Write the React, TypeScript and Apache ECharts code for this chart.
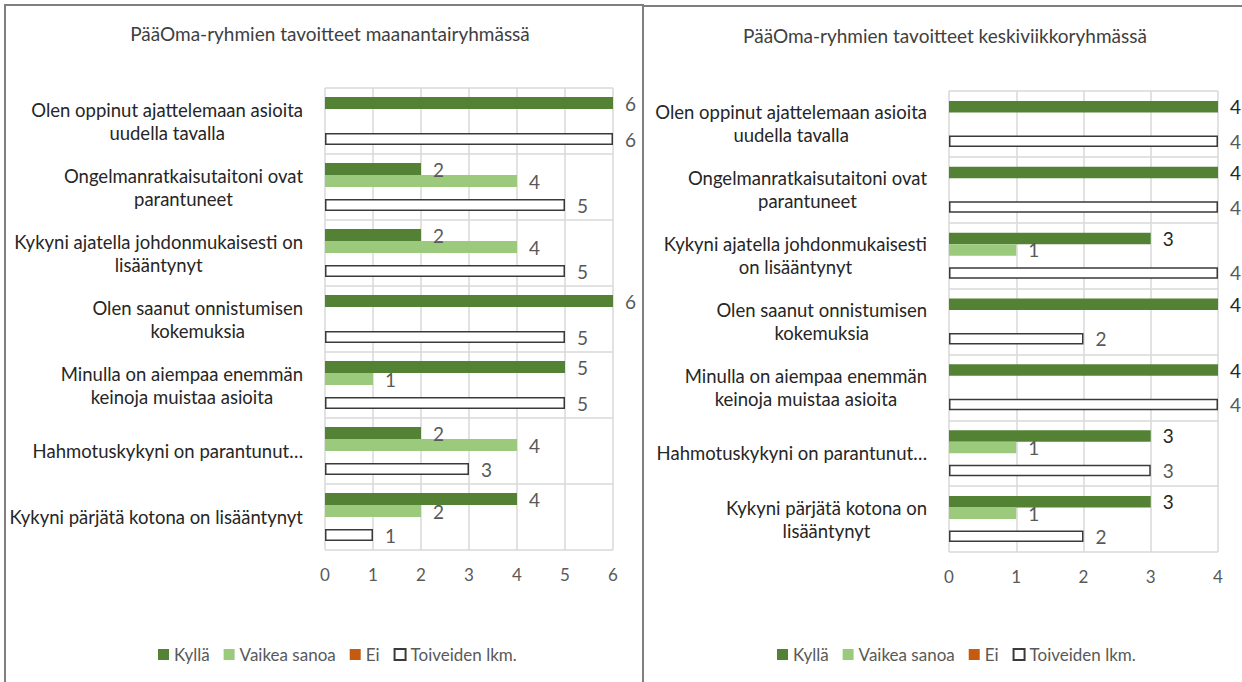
import React, { useEffect, useRef } from "react";
import * as echarts from "echarts";

// ---------- data ----------
const titleLeft = "PääOma-ryhmien tavoitteet maanantairyhmässä";
const titleRight = "PääOma-ryhmien tavoitteet keskiviikkoryhmässä";

const seriesNames = ["Kyllä", "Vaikea sanoa", "Ei", "Toiveiden lkm."];

const categoriesLeft = [
  "Olen oppinut ajattelemaan asioita\nuudella tavalla",
  "Ongelmanratkaisutaitoni ovat\nparantuneet",
  "Kykyni ajatella johdonmukaisesti on\nlisääntynyt",
  "Olen saanut onnistumisen\nkokemuksia",
  "Minulla on aiempaa enemmän\nkeinoja muistaa asioita",
  "Hahmotuskykyni on parantunut…",
  "Kykyni pärjätä kotona on lisääntynyt",
];
const kyllaLeft = [6, 2, 2, 6, 5, 2, 4];
const vaikeaLeft = [0, 4, 4, 0, 1, 4, 2];
const eiLeft = [0, 0, 0, 0, 0, 0, 0];
const toiveetLeft = [6, 5, 5, 5, 5, 3, 1];
const xMaxLeft = 6;

const categoriesRight = [
  "Olen oppinut ajattelemaan asioita\nuudella tavalla",
  "Ongelmanratkaisutaitoni ovat\nparantuneet",
  "Kykyni ajatella johdonmukaisesti\non lisääntynyt",
  "Olen saanut onnistumisen\nkokemuksia",
  "Minulla on aiempaa enemmän\nkeinoja muistaa asioita",
  "Hahmotuskykyni on parantunut…",
  "Kykyni pärjätä kotona on\nlisääntynyt",
];
const kyllaRight = [4, 4, 3, 4, 4, 3, 3];
const vaikeaRight = [0, 0, 1, 0, 0, 1, 1];
const eiRight = [0, 0, 0, 0, 0, 0, 0];
const toiveetRight = [4, 4, 4, 2, 4, 3, 2];
const xMaxRight = 4;

// ---------- styles ----------
const FONT = "Lato, 'Noto Sans', sans-serif";
const TEXT = "#595959";
const GRIDLINE = "#d9d9d9";
const colors = ["#548235", "#9cca7c", "#c55a11", "#ffffff"];

function App() {
  const ref = useRef<HTMLDivElement>(null);

  useEffect(() => {
    if (!ref.current) return;
    const chart = echarts.init(ref.current, undefined, { renderer: "svg" });

    const hideZero = (p: any) => (p.value === 0 ? "" : String(p.value));

    const makeSeries = (
      idx: number,
      data: number[][],
      barWidth: number,
      kyllaLabelColor: string
    ) =>
      data.map((vals, i) => ({
        name: seriesNames[i],
        type: "bar",
        xAxisIndex: idx,
        yAxisIndex: idx,
        data: vals,
        barWidth,
        barGap: "0%",
        itemStyle:
          i === 3
            ? { color: "#ffffff", borderColor: "#3a3a3a", borderWidth: 1.5 }
            : { color: colors[i] },
        label: {
          show: true,
          position: "right",
          distance: 12,
          formatter: hideZero,
          color: i === 0 ? kyllaLabelColor : TEXT,
          fontFamily: FONT,
          fontSize: 19,
        },
      }));

    const catAxis = (idx: number, cats: string[]) => ({
      type: "category",
      gridIndex: idx,
      data: cats,
      inverse: true,
      axisLine: { show: false },
      axisTick: { show: false },
      splitLine: { show: true, lineStyle: { color: GRIDLINE, width: 1.5 } },
      axisLabel: {
        margin: 22,
        align: "right",
        fontFamily: FONT,
        fontSize: 18.5,
        color: "#262626",
        formatter: (v: string) =>
          v
            .split("\n")
            .map((l) => `{c|${l}}`)
            .join("\n"),
        rich: {
          c: {
            align: "center",
            fontFamily: FONT,
            fontSize: 18.5,
            lineHeight: 23,
            color: "#262626",
          },
        },
      },
    });

    const valAxis = (idx: number, max: number) => ({
      type: "value",
      gridIndex: idx,
      min: 0,
      max,
      interval: 1,
      axisLine: { show: false },
      axisTick: { show: false },
      splitLine: { show: true, lineStyle: { color: GRIDLINE, width: 1.5 } },
      axisLabel: {
        margin: 16,
        fontFamily: FONT,
        fontSize: 17,
        color: TEXT,
      },
    });

    const legend = (left: number) => ({
      left,
      top: 641,
      icon: "rect",
      itemWidth: 11,
      itemHeight: 11,
      itemGap: 14,
      data: seriesNames,
      textStyle: { fontFamily: FONT, fontSize: 17, color: TEXT },
      selectedMode: false,
    });

    const titleStyle = {
      fontFamily: FONT,
      fontSize: 19,
      fontWeight: "normal",
      color: "#404040",
    };

    chart.setOption({
      animation: false,
      color: colors,
      title: [
        { text: titleLeft, left: 325, top: 19, textAlign: "center", textStyle: titleStyle },
        { text: titleRight, left: 940, top: 21, textAlign: "center", textStyle: titleStyle },
      ],
      legend: [legend(153), legend(772)],
      grid: [
        { left: 325, top: 88, width: 288, height: 462 },
        { left: 949, top: 91, width: 269, height: 461 },
      ],
      xAxis: [valAxis(0, xMaxLeft), valAxis(1, xMaxRight)],
      yAxis: [catAxis(0, categoriesLeft), catAxis(1, categoriesRight)],
      series: [
        ...makeSeries(0, [kyllaLeft, vaikeaLeft, eiLeft, toiveetLeft], 12, TEXT),
        ...makeSeries(
          1,
          [kyllaRight, vaikeaRight, eiRight, toiveetRight],
          11.5,
          "#262626"
        ),
      ],
      graphic: [
        {
          type: "rect",
          shape: { x: 5, y: 5, width: 638, height: 720 },
          style: { fill: "none", stroke: "#7f7f7f", lineWidth: 2 },
          silent: true,
        },
        {
          type: "rect",
          shape: { x: 643, y: 6, width: 720, height: 720 },
          style: { fill: "none", stroke: "#7f7f7f", lineWidth: 2 },
          silent: true,
        },
      ],
    });

    return () => chart.dispose();
  }, []);

  return (
    <div
      ref={ref}
      style={{
        position: "absolute",
        left: 0,
        top: 0,
        width: 1242,
        height: 682,
        background: "#ffffff",
      }}
    />
  );
}

export default App;
